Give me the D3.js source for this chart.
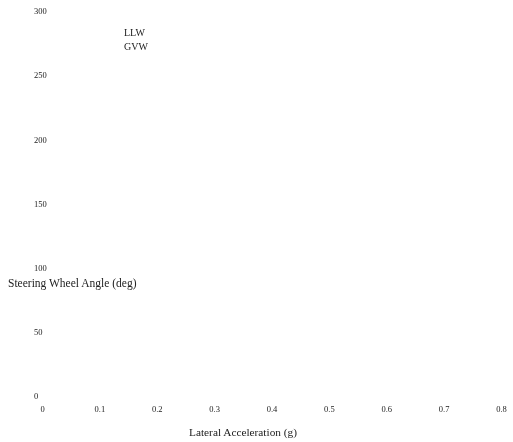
<!DOCTYPE html>
<html>
<head>
<meta charset="utf-8">
<script src="https://cdn.jsdelivr.net/npm/d3@7"></script>
<style>
  html, body { margin: 0; padding: 0; background: #fff; }
  svg { display: block; }
  text { font-family: "Liberation Serif", "DejaVu Serif", serif; fill: #222; }
  .domain, .tick line { display: none; }
  #chart { will-change: transform; }
</style>
</head>
<body>
<svg id="chart" width="513" height="442"></svg>
<script>
// Axis ticks and legend entries
const xTicks = [0, 0.1, 0.2, 0.3, 0.4, 0.5, 0.6, 0.7, 0.8];
const yTicks = [0, 50, 100, 150, 200, 250, 300];
const seriesNames = ["LLW", "GVW"];
const xTitle = "Lateral Acceleration (g)";
const yTitle = "Steering Wheel Angle (deg)";

const svg = d3.select("#chart");

const x = d3.scaleLinear().domain([0, 0.8]).range([42, 501]);
const y = d3.scaleLinear().domain([0, 300]).range([396, 11]);

// X axis labels
svg.append("g")
  .attr("transform", `translate(0, ${406})`)
  .call(d3.axisBottom(x).tickValues(xTicks).tickSize(0).tickPadding(0)
        .tickFormat(d => d === 0 ? "0" : d3.format(".1f")(d)))
  .call(g => g.selectAll("text").style("font-size", "8.5px").attr("dy", "0.71em").attr("fill", "#222"));

// Y axis labels, left-aligned in a narrow gutter
svg.append("g")
  .attr("transform", `translate(${34}, 0)`)
  .call(d3.axisLeft(y).tickValues(yTicks).tickSize(0).tickPadding(0))
  .call(g => g.selectAll("text").style("font-size", "8.5px").attr("text-anchor", "start").attr("fill", "#222"));

// Axis titles
svg.append("text")
  .attr("x", 8).attr("y", 287)
  .style("font-size", "11.5px")
  .text(yTitle);

svg.append("text")
  .attr("x", 243).attr("y", 436)
  .attr("text-anchor", "middle")
  .style("font-size", "11.3px")
  .text(xTitle);

// Legend
svg.append("g").selectAll("text")
  .data(seriesNames)
  .join("text")
  .attr("x", 124)
  .attr("y", (d, i) => 36 + i * 14)
  .style("font-size", "10px")
  .text(d => d);
</script>
</body>
</html>
